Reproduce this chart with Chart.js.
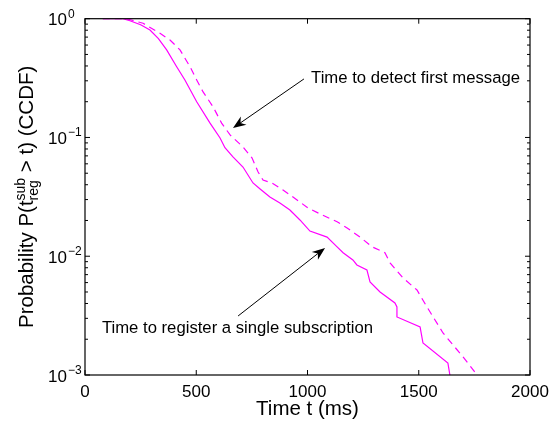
<!DOCTYPE html>
<html>
<head>
<meta charset="utf-8">
<script src="https://cdn.jsdelivr.net/npm/chart.js@4.4.1/dist/chart.umd.min.js"></script>
<style>
  html, body { margin: 0; padding: 0; background: #fff; }
  #wrap { width: 550px; height: 425px; }
</style>
</head>
<body>
<div id="wrap"><canvas id="chart" width="550" height="425"></canvas></div>
<script>
// time (ms) / CCDF values
const solidT = [80, 170, 202, 250, 292, 330, 367, 412, 449, 502, 562, 607, 629, 665, 710, 755, 787, 831, 876, 921, 966, 1011, 1088, 1133, 1160, 1204, 1222, 1267, 1281, 1326, 1393, 1402, 1402, 1506, 1519, 1631, 1640];
const solidP = [1, 1, 0.962, 0.89, 0.803, 0.68, 0.546, 0.394, 0.305, 0.2, 0.132, 0.099, 0.082, 0.0686, 0.0564, 0.0414, 0.0368, 0.0315, 0.0281, 0.0245, 0.0202, 0.0163, 0.0145, 0.012, 0.0107, 0.0093, 0.00845, 0.00767, 0.00608, 0.005, 0.00404, 0.00374, 0.00308, 0.00254, 0.00186, 0.00126, 0.001];

const dashedT = [80, 170, 200, 261, 337, 382, 427, 472, 502, 530, 575, 614, 652, 710, 751, 778, 800, 840, 890, 953, 1002, 1065, 1133, 1178, 1236, 1290, 1348, 1371, 1429, 1492, 1537, 1609, 1699, 1762];
const dashedP = [1, 1, 0.985, 0.915, 0.753, 0.662, 0.546, 0.394, 0.305, 0.243, 0.182, 0.132, 0.105, 0.0832, 0.0671, 0.0512, 0.0438, 0.0414, 0.0361, 0.0298, 0.0255, 0.0223, 0.0195, 0.0173, 0.0145, 0.012, 0.0107, 0.0088, 0.00657, 0.0052, 0.00374, 0.00226, 0.00142, 0.001];

const xTicks = [0, 500, 1000, 1500, 2000];
const yTicks = [0.001, 0.01, 0.1, 1];
const yExponents = ['\u22123', '\u22122', '\u22121', '0'];

// arrows: tail -> tip, in data units; text anchored at left/baseline
const notes = [
  { text: 'Time to detect first message', tx: 1016, tp: 0.2875, from: [984, 0.311], to: [665, 0.120] },
  { text: 'Time to register a single subscription', tx: 76, tp: 0.00226, from: [688, 0.00314], to: [1079, 0.01175] }
];

const FONT = "'Liberation Sans', Arial, Helvetica, sans-serif";
const lineColor = '#ff00ff';

function toPoints(ts, ps) {
    return ts.map((t, i) => ({ x: t, y: ps[i] }));
}

const decorPlugin = {
    id: 'decor',
    afterDraw(chart) {
        const ctx = chart.ctx;
        const xs = chart.scales.x;
        const ys = chart.scales.y;
        const a = chart.chartArea;
        ctx.save();

        // box
        ctx.strokeStyle = '#000';
        ctx.lineWidth = 1.2;
        ctx.strokeRect(a.left, a.top, a.right - a.left, a.bottom - a.top);

        // x ticks (inside, bottom and top)
        ctx.lineWidth = 1;
        ctx.beginPath();
        xTicks.forEach(v => {
            const px = xs.getPixelForValue(v);
            ctx.moveTo(px, a.bottom); ctx.lineTo(px, a.bottom - 5);
            ctx.moveTo(px, a.top); ctx.lineTo(px, a.top + 5);
        });
        // y ticks, major and minor, both sides
        for (let k = -3; k <= 0; k++) {
            for (let m = 1; m <= 9; m++) {
                const v = m * Math.pow(10, k);
                if (v > 1.0001) break;
                const py = ys.getPixelForValue(v);
                const len = m === 1 ? 5 : 3;
                ctx.moveTo(a.left, py); ctx.lineTo(a.left + len, py);
                ctx.moveTo(a.right, py); ctx.lineTo(a.right - len, py);
            }
        }
        ctx.stroke();

        // x tick labels
        ctx.fillStyle = '#000';
        ctx.font = '17px ' + FONT;
        ctx.textAlign = 'center';
        ctx.textBaseline = 'alphabetic';
        xTicks.forEach(v => {
            ctx.fillText(String(v), xs.getPixelForValue(v), a.bottom + 21.5);
        });

        // y tick labels 10^k
        yTicks.forEach((v, i) => {
            const py = ys.getPixelForValue(v);
            ctx.font = '17px ' + FONT;
            ctx.textAlign = 'right';
            ctx.fillText('10', 67, py + 6.5);
            ctx.font = '12px ' + FONT;
            ctx.textAlign = 'left';
            ctx.fillText(yExponents[i], 68, py - 1);
        });

        // x title
        ctx.font = '20.5px ' + FONT;
        ctx.textAlign = 'center';
        ctx.fillText('Time t (ms)', (a.left + a.right) / 2, 415);

        // y title, rotated, with stacked sup/sub
        const big = '20.5px ' + FONT, small = '14px ' + FONT;
        const p1 = 'Probability P(t', p2 = ' > t) (CCDF)';
        ctx.font = big;
        const w1 = ctx.measureText(p1).width, w3 = ctx.measureText(p2).width;
        ctx.font = small;
        const w2 = Math.max(ctx.measureText('sub').width, ctx.measureText('reg').width);
        const total = w1 + w2 + w3;
        ctx.translate(33, (a.top + a.bottom) / 2);
        ctx.rotate(-Math.PI / 2);
        ctx.textAlign = 'left';
        let x0 = -total / 2;
        ctx.font = big;
        ctx.fillText(p1, x0, 0);
        x0 += w1;
        ctx.font = small;
        ctx.fillText('sub', x0, -8);
        ctx.fillText('reg', x0, 5);
        x0 += w2;
        ctx.font = big;
        ctx.fillText(p2, x0, 0);
        ctx.setTransform(1, 0, 0, 1, 0, 0);

        // annotations
        notes.forEach(n => {
            ctx.font = '16.7px ' + FONT;
            ctx.textAlign = 'left';
            ctx.fillStyle = '#000';
            ctx.fillText(n.text, xs.getPixelForValue(n.tx), ys.getPixelForValue(n.tp));
            const x1 = xs.getPixelForValue(n.from[0]), y1 = ys.getPixelForValue(n.from[1]);
            const x2 = xs.getPixelForValue(n.to[0]), y2 = ys.getPixelForValue(n.to[1]);
            const ang = Math.atan2(y2 - y1, x2 - x1);
            const L = 13, W = 5;
            ctx.strokeStyle = '#000';
            ctx.lineWidth = 1;
            ctx.beginPath();
            ctx.moveTo(x1, y1);
            ctx.lineTo(x2 - Math.cos(ang) * 8, y2 - Math.sin(ang) * 8);
            ctx.stroke();
            const bx = x2 - Math.cos(ang) * L, by = y2 - Math.sin(ang) * L;
            const nx = -Math.sin(ang), ny = Math.cos(ang);
            const cx = x2 - Math.cos(ang) * L * 0.7, cy = y2 - Math.sin(ang) * L * 0.7;
            ctx.beginPath();
            ctx.moveTo(x2, y2);
            ctx.lineTo(bx + nx * W, by + ny * W);
            ctx.lineTo(cx, cy);
            ctx.lineTo(bx - nx * W, by - ny * W);
            ctx.closePath();
            ctx.fill();
        });

        ctx.restore();
    }
};

new Chart(document.getElementById('chart'), {
    type: 'line',
    data: {
        datasets: [
            {
                label: 'Time to register a single subscription',
                data: toPoints(solidT, solidP),
                borderColor: lineColor,
                borderWidth: 1.2,
                pointRadius: 0,
                tension: 0,
                fill: false
            },
            {
                label: 'Time to detect first message',
                data: toPoints(dashedT, dashedP),
                borderColor: lineColor,
                borderWidth: 1.2,
                borderDash: [7, 5],
                pointRadius: 0,
                tension: 0,
                fill: false
            }
        ]
    },
    options: {
        responsive: false,
        animation: false,
        devicePixelRatio: 1,
        layout: { padding: { left: 85, right: 20, top: 18.7, bottom: 50 } },
        scales: {
            x: { type: 'linear', min: 0, max: 2000, display: false },
            y: { type: 'logarithmic', min: 0.001, max: 1, display: false }
        },
        plugins: {
            legend: { display: false },
            tooltip: { enabled: false }
        }
    },
    plugins: [decorPlugin]
});
</script>
</body>
</html>
